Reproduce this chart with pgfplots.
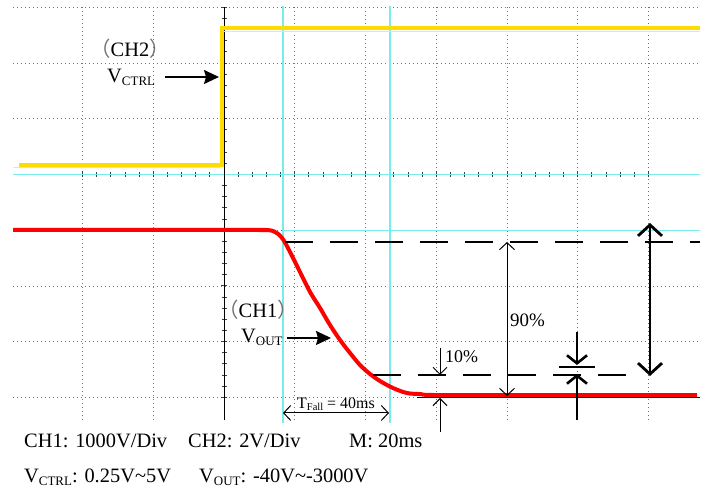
\documentclass[border=0pt]{standalone}
\usepackage{pgfplots}
\pgfplotsset{compat=1.18}
\usepackage{fontspec}
\setmainfont{Liberation Serif}
\newfontfamily\cjk{Noto Sans CJK SC}
\usetikzlibrary{arrows.meta}

\definecolor{scopeyellow}{RGB}{255,220,0}
\definecolor{noiseyellow}{RGB}{255,238,80}
\definecolor{scopecyan}{RGB}{120,235,235}
\definecolor{scopered}{RGB}{255,0,0}

% pixel coordinates of the screenshot -> divisions of the scope screen
\makeatletter
\def\pxcs@parse#1,#2\@nil{%
  \pgfmathparse{(#1-224)/70.75}\let\pxcs@x\pgfmathresult
  \pgfmathparse{(174.5-#2)/55.71}\let\pxcs@y\pgfmathresult
  \pgfplotspointaxisxy{\pxcs@x}{\pxcs@y}}
\tikzdeclarecoordinatesystem{px}{\pxcs@parse#1\@nil}
\makeatother

\newcommand\lbl{\fontsize{20.5}{24}\selectfont}
\newcommand\sub[1]{\raisebox{-3bp}{\fontsize{13}{13}\selectfont #1}}
\newcommand\lp{{\cjk\color{black!55}（}}
\newcommand\rp{{\cjk\color{black!55}）}}

\begin{document}
\begin{tikzpicture}
\begin{axis}[
  scale only axis, width=687bp, height=412.8bp,
  xmin=-2.98, xmax=6.73, ymin=-4.41, ymax=3.0,
  enlargelimits=false, clip=false,
  axis lines=middle,
  x axis line style={draw=scopecyan, line width=1.3bp, -},
  y axis line style={draw=black, line width=1bp, -},
  xtick={-2,...,6}, ytick={-4,...,3},
  minor x tick num=4, minor y tick num=4,
  xticklabels={}, yticklabels={},
  tick align=center,
  major tick length=6bp, minor tick length=5bp,
  tick style={black!75, line width=0.9bp},
  grid=major,
  grid style={black!55, line width=0.7bp, dash pattern=on 0.8bp off 3.2bp},
]
% page size
\path (px cs:0,0) rectangle (px cs:711,494);

% cursors
\draw[scopecyan, line width=1.8bp] (px cs:283,6) -- (px cs:283,423);
\draw[scopecyan, line width=1.8bp] (px cs:390,6) -- (px cs:390,423);
\draw[scopecyan, line width=1bp] (px cs:283,231) -- (px cs:700,231);
\draw[black, line width=1.5bp] (px cs:417,397.5) -- (px cs:700,397.5);

% CH2 (V_CTRL)
\addplot[noiseyellow, line width=1bp] coordinates {(-2.98,0.117) (-0.05,0.117)};
\addplot[noiseyellow, line width=1bp] coordinates {(-0.01,2.558) (6.73,2.558)};
\addplot[scopeyellow, line width=3.5bp, line join=miter] coordinates {
  (-2.897,0.171) (-0.028,0.171) (-0.028,2.63) (6.73,2.63)};

% CH1 (V_OUT)
\addplot[scopered, line width=4bp, smooth, tension=0.6] coordinates {
  (-2.98,-0.996) (0.30,-0.996) (0.509,-0.998) (0.693,-1.014) (0.820,-1.140)
  (0.933,-1.391) (1.074,-1.750) (1.216,-2.109) (1.357,-2.396) (1.498,-2.701)
  (1.640,-2.971) (1.781,-3.204) (1.922,-3.419) (2.064,-3.581) (2.205,-3.707)
  (2.389,-3.833) (2.587,-3.923) (2.770,-3.941) (3.011,-3.959) (4.5,-3.96)
  (6.686,-3.96)};

% 90% / 10% levels
\draw[black, line width=1.6bp, dash pattern=on 28bp off 17bp] (px cs:285,242) -- (px cs:700,242);
\draw[black, line width=1.6bp, dash pattern=on 28bp off 17bp] (px cs:373,375) -- (px cs:628,375);
\draw[black, line width=1.8bp] (px cs:559,367) -- (px cs:595,367);

\draw[line width=1bp, {Straight Barb[length=7bp,width=15bp]}-{Straight Barb[length=7bp,width=15bp]}]
  (px cs:507,242) -- (px cs:507,396);
\draw[line width=1bp, -{Straight Barb[length=7bp,width=14bp]}] (px cs:440,348) -- (px cs:440,375);
\draw[line width=1bp, -{Straight Barb[length=7bp,width=14bp]}] (px cs:440,432) -- (px cs:440,398);
\draw[line width=2.6bp, -{Straight Barb[length=8bp,width=20bp]}] (px cs:577,332) -- (px cs:577,365);
\draw[line width=2.6bp, -{Straight Barb[length=8bp,width=20bp]}] (px cs:577,420) -- (px cs:577,374);
\draw[line width=2.8bp, {Straight Barb[length=11bp,width=24bp]}-{Straight Barb[length=11bp,width=24bp]}]
  (px cs:650,223) -- (px cs:650,376);
\draw[line width=1bp, {Straight Barb[length=7bp,width=15bp]}-{Straight Barb[length=7bp,width=15bp]}]
  (px cs:283,413) -- (px cs:389,413);

% channel arrows
\draw[line width=1.6bp, -{Stealth[length=15bp,width=14bp,inset=2bp]}] (px cs:165,77) -- (px cs:219,77);
\draw[line width=1.6bp, -{Stealth[length=15bp,width=14bp,inset=2bp]}] (px cs:287,338) -- (px cs:331,338);

% labels
\node[inner sep=0, anchor=base] at (px cs:130,57) {\lbl\lp CH2\rp};
\node[inner sep=0, anchor=base west] at (px cs:107,83) {\lbl V\sub{CTRL}};
\node[inner sep=0, anchor=base] at (px cs:258,318) {\lbl\lp CH1\rp};
\node[inner sep=0, anchor=base west] at (px cs:241,343) {\lbl V\sub{OUT}};
\node[inner sep=0, anchor=base west] at (px cs:510,327) {\fontsize{19}{22}\selectfont 90\%};
\node[inner sep=0, anchor=base west] at (px cs:445,363) {\fontsize{18}{22}\selectfont 10\%};
\node[inner sep=0, anchor=base] at (px cs:336,409) {\fontsize{16}{18}\selectfont T\raisebox{-2bp}{\fontsize{10.5}{11}\selectfont Fall} = 40ms};

\node[inner sep=0, anchor=base west] at (px cs:24,448) {\lbl CH1: 1000V/Div};
\node[inner sep=0, anchor=base west] at (px cs:188,448) {\lbl CH2: 2V/Div};
\node[inner sep=0, anchor=base west] at (px cs:349,448) {\lbl M: 20ms};
\node[inner sep=0, anchor=base west] at (px cs:24,483) {\lbl V\sub{CTRL}: 0.25V\textasciitilde5V};
\node[inner sep=0, anchor=base west] at (px cs:199,483) {\lbl V\sub{OUT}: -40V\textasciitilde-3000V};
\end{axis}
\end{tikzpicture}
\end{document}
